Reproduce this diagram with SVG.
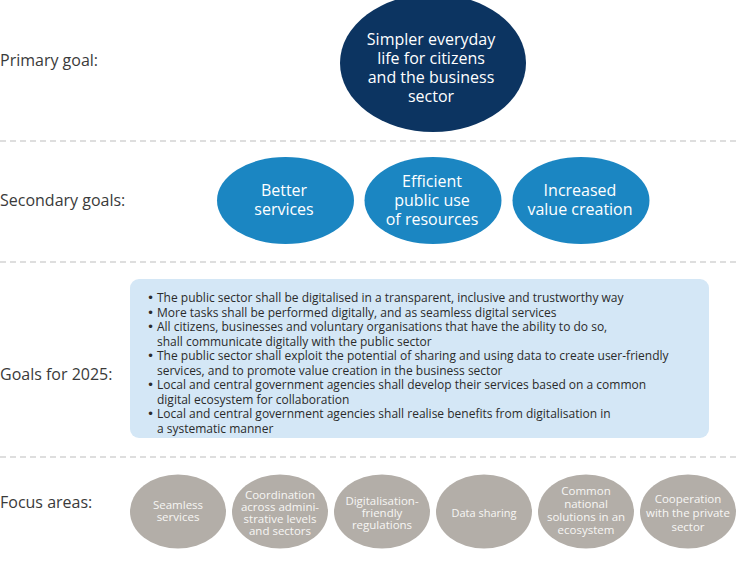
<svg xmlns="http://www.w3.org/2000/svg" width="738" height="562" viewBox="0 0 738 562">
<style>
.lbl{font-family:"Open Sans","Liberation Sans",sans-serif;font-size:16px;fill:#3a3a3a}
.big{font-family:"Open Sans","Liberation Sans",sans-serif;font-size:16px;fill:#ffffff;text-anchor:middle}
.sm{font-family:"Open Sans","Liberation Sans",sans-serif;font-size:11.5px;fill:#f7f6f4;text-anchor:middle}
.box{font-family:"Open Sans","Liberation Sans",sans-serif;font-size:12px;fill:#2b2b2b}
.bul{font-family:"DejaVu Sans",sans-serif;font-size:12px;fill:#2b2b2b}
.dash{stroke:#bdbdbd;stroke-width:1;stroke-dasharray:6 4;fill:none}
.navy{fill:#0c3461}
.blue{fill:#1b86c2}
.gray{fill:#b3aea8}
</style>
<rect width="738" height="562" fill="#ffffff"/>
<g id="separators">
<line class="dash" x1="0" y1="141" x2="738" y2="141"/>
<line class="dash" x1="0" y1="262" x2="738" y2="262"/>
<line class="dash" x1="0" y1="457" x2="738" y2="457"/>
</g>
<g id="labels">
<text class="lbl" x="0" y="66">Primary goal:</text>
<text class="lbl" x="0" y="206">Secondary goals:</text>
<text class="lbl" x="0" y="380">Goals for 2025:</text>
<text class="lbl" x="0" y="508">Focus areas:</text>
</g>
<g id="primary">
<ellipse class="navy" cx="433" cy="63" rx="93" ry="69"/>
<text class="big" x="431" y="45">Simpler everyday</text>
<text class="big" x="431" y="64">life for citizens</text>
<text class="big" x="431" y="83">and the business</text>
<text class="big" x="431" y="102">sector</text>
</g>
<g id="sec1">
<ellipse class="blue" cx="285.5" cy="200.5" rx="68.5" ry="43.5"/>
<text class="big" x="284" y="196">Better</text>
<text class="big" x="284" y="215">services</text>
</g>
<g id="sec2">
<ellipse class="blue" cx="433" cy="200.5" rx="68.5" ry="43.5"/>
<text class="big" x="432" y="187">Efficient</text>
<text class="big" x="432" y="206">public use</text>
<text class="big" x="432" y="225">of resources</text>
</g>
<g id="sec3">
<ellipse class="blue" cx="581" cy="200.5" rx="68.5" ry="43.5"/>
<text class="big" x="580" y="196">Increased</text>
<text class="big" x="580" y="215">value creation</text>
</g>
<g id="goals2025">
<rect x="130" y="279" width="579" height="159" rx="9" fill="#d4e7f6"/>
<g class="bul">
<text x="147" y="302">•</text>
<text x="147" y="316.5">•</text>
<text x="147" y="331">•</text>
<text x="147" y="360">•</text>
<text x="147" y="389">•</text>
<text x="147" y="418">•</text>
</g>
<g class="box">
<text x="157" y="302">The public sector shall be digitalised in a transparent, inclusive and trustworthy way</text>
<text x="157" y="316.5">More tasks shall be performed digitally, and as seamless digital services</text>
<text x="157" y="331">All citizens, businesses and voluntary organisations that have the ability to do so,</text>
<text x="157" y="345.5">shall communicate digitally with the public sector</text>
<text x="157" y="360">The public sector shall exploit the potential of sharing and using data to create user-friendly</text>
<text x="157" y="374.5">services, and to promote value creation in the business sector</text>
<text x="157" y="389">Local and central government agencies shall develop their services based on a common</text>
<text x="157" y="403.5">digital ecosystem for collaboration</text>
<text x="157" y="418">Local and central government agencies shall realise benefits from digitalisation in</text>
<text x="157" y="432.5">a systematic manner</text>
</g>
</g>
<g id="focus1">
<ellipse class="gray" cx="178" cy="511.5" rx="48" ry="37"/>
<text class="sm" x="178" y="509">Seamless</text>
<text class="sm" x="178" y="521">services</text>
</g>
<g id="focus2">
<ellipse class="gray" cx="280" cy="511.5" rx="48" ry="37"/>
<text class="sm" x="280" y="499">Coordination</text>
<text class="sm" x="280" y="511">across admini-</text>
<text class="sm" x="280" y="523">strative levels</text>
<text class="sm" x="280" y="535">and sectors</text>
</g>
<g id="focus3">
<ellipse class="gray" cx="382" cy="511.5" rx="48" ry="37"/>
<text class="sm" x="382" y="505">Digitalisation-</text>
<text class="sm" x="382" y="517">friendly</text>
<text class="sm" x="382" y="529">regulations</text>
</g>
<g id="focus4">
<ellipse class="gray" cx="484" cy="511.5" rx="48" ry="37"/>
<text class="sm" x="484" y="517" style="font-size:11px">Data sharing</text>
</g>
<g id="focus5">
<ellipse class="gray" cx="586" cy="511.5" rx="48" ry="37"/>
<text class="sm" x="586" y="495">Common</text>
<text class="sm" x="586" y="508">national</text>
<text class="sm" x="586" y="521">solutions in an</text>
<text class="sm" x="586" y="534">ecosystem</text>
</g>
<g id="focus6">
<ellipse class="gray" cx="688" cy="511.5" rx="48" ry="37"/>
<text class="sm" x="688" y="503">Cooperation</text>
<text class="sm" x="688" y="517">with the private</text>
<text class="sm" x="688" y="531">sector</text>
</g>
<g id="connectors"/>
</svg>
